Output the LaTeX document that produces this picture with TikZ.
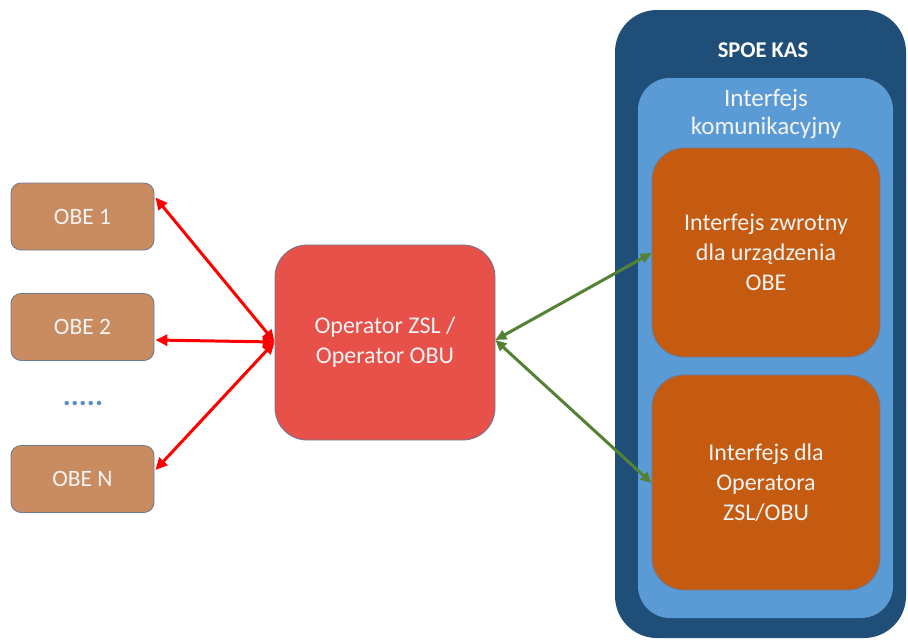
\documentclass[tikz,border=0pt]{standalone}
\usepackage{fontspec}
\setmainfont{Carlito}
\usetikzlibrary{arrows.meta,calc}
\definecolor{obefill}{HTML}{C98B60}
\definecolor{opfill}{HTML}{E8504A}
\definecolor{darkblue}{HTML}{1F4E79}
\definecolor{lightblue}{HTML}{5B9BD5}
\definecolor{orangebox}{HTML}{C55A11}
\definecolor{edgegray}{HTML}{6B7A94}
\definecolor{arrred}{HTML}{FF0000}
\definecolor{arrgreen}{HTML}{548235}
\definecolor{dotblue}{HTML}{5B8BC8}
\definecolor{txtwhite}{HTML}{F4F4F4}
\tikzset{
  obebox/.style={draw=edgegray, line width=0.8pt, fill=obefill, rounded corners=10pt,
    minimum width=143pt, minimum height=67pt, inner sep=0pt, text=txtwhite,
    font=\fontsize{23.5}{28}\selectfont},
  opbox/.style={draw=edgegray, line width=0.8pt, fill=opfill, rounded corners=32pt,
    minimum width=220pt, minimum height=195pt, inner sep=0pt, text=txtwhite, align=center,
    font=\fontsize{24}{30}\selectfont},
  orbox/.style={draw=edgegray, line width=0.8pt, fill=orangebox, rounded corners=32pt,
    minimum width=228pt, inner sep=0pt, text=txtwhite, align=center,
    font=\fontsize{24}{30}\selectfont},
  redarr/.style={draw=arrred, line width=3pt, {Triangle[length=12pt,width=11pt]}-{Triangle[length=12pt,width=11pt]}},
  greenarr/.style={draw=arrgreen, line width=3pt, {Triangle[length=11pt,width=10pt]}-{Triangle[length=11pt,width=10pt]}},
}
\begin{document}
\begin{tikzpicture}[x=1pt,y=-1pt]
\useasboundingbox (0,0) rectangle (908,640);
% SPOE KAS container
\node[fill=darkblue, rounded corners=42pt, minimum width=291pt, minimum height=628pt, inner sep=0pt] (spoe) at (760.5,324) {};
\node[text=white, font=\bfseries\fontsize{22.5}{26}\selectfont] (spoelbl) at (763,50) {SPOE KAS};
\node[fill=lightblue, rounded corners=32pt, minimum width=255pt, minimum height=540pt, inner sep=0pt] (iface) at (765.5,348) {};
\node[text=txtwhite, align=center, font=\fontsize{25}{28}\selectfont] (ifacelbl) at (766,114) {Interfejs\\komunikacyjny};
\node[orbox, minimum height=209pt] (ret) at (766,252.5) {Interfejs zwrotny\\dla urządzenia\\OBE};
\node[orbox, minimum height=215pt] (opif) at (766,482.5) {Interfejs dla\\Operatora\\ZSL/OBU};
% OBE boxes
\node[obebox] (obe1) at (82.5,216.5) {OBE 1};
\node[obebox] (obe2) at (82.5,327) {OBE 2};
\node[obebox] (oben) at (82.5,479) {OBE N};
\node[text=dotblue, font=\bfseries\fontsize{30}{30}\selectfont, inner sep=0pt, anchor=base] (dots) at (83,405) {.....};
% Operator
\node[opbox] (op) at (385,342.5) {Operator ZSL /\\Operator OBU};
% connectors
\coordinate (opw) at ($(op.west)+(0,-0.5)$);
\coordinate (ope) at ($(op.east)+(0,-2.5)$);
\draw[redarr] ($(obe1.east)+(1,-19)$) -- (opw);
\draw[redarr] ($(obe2.east)+(1,13)$) -- (opw);
\draw[redarr] ($(oben.east)+(1,-9)$) -- (opw);
\draw[greenarr] (ope) -- ($(ret.west)+(0,0.5)$);
\draw[greenarr] (ope) -- ($(opif.west)+(0,0.5)$);
\end{tikzpicture}
\end{document}
